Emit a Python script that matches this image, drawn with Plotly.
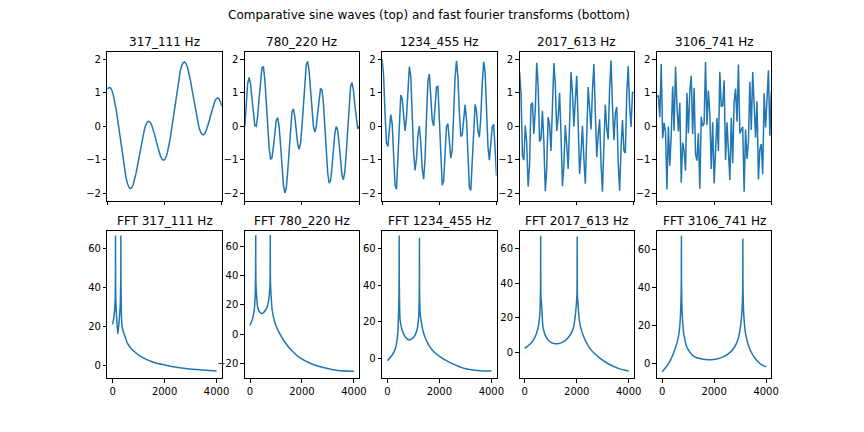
import numpy as np
import plotly.graph_objects as go

# ---------------- data ----------------
TITLES_TOP = ["317_111 Hz", "780_220 Hz", "1234_455 Hz", "2017_613 Hz", "3106_741 Hz"]
TITLES_BOT = ["FFT 317_111 Hz", "FFT 780_220 Hz", "FFT 1234_455 Hz", "FFT 2017_613 Hz", "FFT 3106_741 Hz"]
SUPTITLE = "Comparative sine waves (top) and fast fourier transforms (bottom)"

# two tones per wave (from the titles) and their starting phases (degrees)
FREQ_HI = [317, 780, 1234, 2017, 3106]
FREQ_LO = [111, 220, 455, 613, 741]
PHASE_HI_DEG = [50, 0, 90, 56, 34]
PHASE_LO_DEG = [160, 0, 90, 126, 20]
SAMPLE_RATE = 8000
N_SAMPLES = 81

# FFT magnitude curves (Hz, dB)
FFT_FREQ = [
    [0, 50, 96, 108, 111, 114, 126, 165, 200, 240, 290, 314, 317, 320, 330, 354, 405, 494, 557, 684, 810, 1063, 1380, 1696, 2013, 2329, 2962, 3595, 4000],
    [0, 95, 159, 197, 210, 217, 220, 223, 230, 260, 298, 387, 476, 578, 679, 730, 770, 777, 780, 783, 790, 815, 857, 959, 1086, 1340, 1594, 1911, 2356, 2864, 3372, 4000],
    [0, 185, 312, 401, 430, 445, 452, 455, 458, 465, 490, 567, 694, 847, 1013, 1140, 1204, 1224, 1231, 1234, 1237, 1244, 1264, 1293, 1395, 1586, 1777, 2019, 2414, 3013, 3560, 4000],
    [0, 197, 387, 514, 578, 603, 610, 613, 616, 623, 654, 705, 832, 1022, 1276, 1530, 1721, 1873, 1949, 2007, 2014, 2017, 2020, 2027, 2051, 2102, 2229, 2483, 2864, 3245, 3626, 4000],
    [0, 114, 304, 494, 620, 684, 716, 731, 738, 741, 744, 751, 772, 835, 962, 1190, 1570, 1886, 2203, 2519, 2772, 2937, 3025, 3071, 3096, 3103, 3106, 3109, 3116, 3139, 3215, 3405, 3658, 3848, 4000],
]
FFT_DB = [
    [20.9, 24.5, 33, 45, 66.3, 45, 33, 22, 15.8, 21, 30, 45, 66.3, 45, 33, 20.9, 17.5, 14, 11.5, 8.9, 7.2, 4.5, 2.4, 0.9, 0.0, -0.9, -2.1, -2.7, -3.1],
    [6.2, 10.3, 16, 25, 34, 44, 67.2, 44, 34, 25, 18.2, 14.8, 14.1, 16, 19.4, 25, 34, 44, 67.2, 44, 34, 25, 16, 8, 2.3, -5.2, -10.9, -15.9, -20, -22.8, -24.6, -25.1],
    [-1.3, 1.8, 5.5, 13.7, 24.7, 34, 44, 67.1, 44, 34, 21, 15.5, 11.5, 10, 11.5, 15.5, 22.9, 33, 43, 65.8, 43, 33, 24, 21, 13.7, 7.3, 3.7, 0.9, -2.4, -5.8, -6.8, -7.0],
    [2.5, 4.8, 8.7, 14.4, 22.1, 33, 43, 67.2, 43, 33, 26, 14.4, 8.7, 5.8, 5.2, 6.7, 9.6, 14.4, 22, 33, 43, 66.7, 43, 33, 27.9, 18.3, 10.6, 2.9, -2.9, -6.7, -9.2, -10.6],
    [-4.4, -2.6, 1.2, 7.4, 13.5, 20.5, 29, 36, 45, 67.0, 45, 36, 25.8, 15.3, 8.2, 3.9, 2.1, 1.9, 2.6, 4.7, 8.2, 13.5, 20.5, 27.5, 36, 45, 65.6, 45, 36, 25.8, 15.3, 6.5, 1.2, -0.9, -1.8],
]
TOP_TICKS = [-2, -1, 0, 1, 2]
BOT_XTICKS = [0, 2000, 4000]
BOT_TICKS = [[0, 20, 40, 60], [-20, 0, 20, 40, 60], [0, 20, 40, 60], [0, 20, 40, 60], [0, 20, 40, 60]]
TOP_RANGE = [-2.21, 2.21]
BOT_RANGES = [[-6.84, 68.74], [-29.9, 70.0], [-11.0, 69.7], [-14.8, 70.0], [-7.9, 69.6]]

# ---------------- layout ----------------
W, H = 864, 432
COL_LEFT = [108.3 + c * 138.5 for c in range(5)]
COL_W = 115.3
ROW_TOP = [52.3, 231.3]
ROW_BOT = [200.5, 378.3]
LINE = dict(color="#1f77b4", width=1.5)
FONT = "DejaVu Sans"


def lab(v):
    return f"{v:g}".replace("-", "\u2212")


fig = go.Figure()
axis_common = dict(showline=True, mirror=True, linecolor="black", linewidth=1, ticks="outside", ticklen=3.5,
                   tickwidth=1, tickcolor="black", showgrid=False, zeroline=False,
                   tickfont=dict(family=FONT, size=10, color="black"))
annotations = []
t = np.arange(N_SAMPLES) / SAMPLE_RATE
for r in range(2):
    for c in range(5):
        k = r * 5 + c + 1
        xd = [COL_LEFT[c] / W, (COL_LEFT[c] + COL_W) / W]
        yd = [1 - ROW_BOT[r] / H, 1 - ROW_TOP[r] / H]
        xa = dict(axis_common, domain=xd, anchor=f"y{k}")
        ya = dict(axis_common, domain=yd, anchor=f"x{k}")
        if r == 0:
            y = (np.sin(2 * np.pi * FREQ_HI[c] * t + np.deg2rad(PHASE_HI_DEG[c]))
                 + np.sin(2 * np.pi * FREQ_LO[c] * t + np.deg2rad(PHASE_LO_DEG[c])))
            fig.add_trace(go.Scatter(x=t, y=y, mode="lines", line=LINE, xaxis=f"x{k}", yaxis=f"y{k}", hoverinfo="skip"))
            xa.update(range=[0, 0.01], tickvals=[0, 0.005, 0.01], showticklabels=False)
            ya.update(range=TOP_RANGE, tickvals=TOP_TICKS, ticktext=[lab(v) for v in TOP_TICKS])
            title = TITLES_TOP[c]
        else:
            fig.add_trace(go.Scatter(x=FFT_FREQ[c], y=FFT_DB[c], mode="lines",
                                     line=dict(LINE, shape="spline", smoothing=0.6),
                                     xaxis=f"x{k}", yaxis=f"y{k}", hoverinfo="skip"))
            xa.update(range=[-200, 4200], tickvals=BOT_XTICKS, ticktext=[lab(v) for v in BOT_XTICKS])
            ya.update(range=BOT_RANGES[c], tickvals=BOT_TICKS[c], ticktext=[lab(v) for v in BOT_TICKS[c]])
            title = TITLES_BOT[c]
        fig.layout[f"xaxis{k}" if k > 1 else "xaxis"] = xa
        fig.layout[f"yaxis{k}" if k > 1 else "yaxis"] = ya
        annotations.append(dict(text=title, x=(xd[0] + xd[1]) / 2, y=yd[1] + 1 / H, xref="paper", yref="paper",
                                xanchor="center", yanchor="bottom", showarrow=False,
                                font=dict(family=FONT, size=12, color="black")))

annotations.append(dict(text=SUPTITLE, x=0.5, y=1 - 15 / H, xref="paper", yref="paper",
                        xanchor="center", yanchor="middle", showarrow=False,
                        font=dict(family=FONT, size=12, color="black")))
fig.update_layout(width=W, height=H, margin=dict(l=0, r=0, t=0, b=0), paper_bgcolor="white",
                  plot_bgcolor="white", showlegend=False, annotations=annotations)
fig.write_html("out.html", config={"displayModeBar": False, "staticPlot": True},
               post_script="document.body.style.margin='0';document.body.style.overflow='hidden';")
